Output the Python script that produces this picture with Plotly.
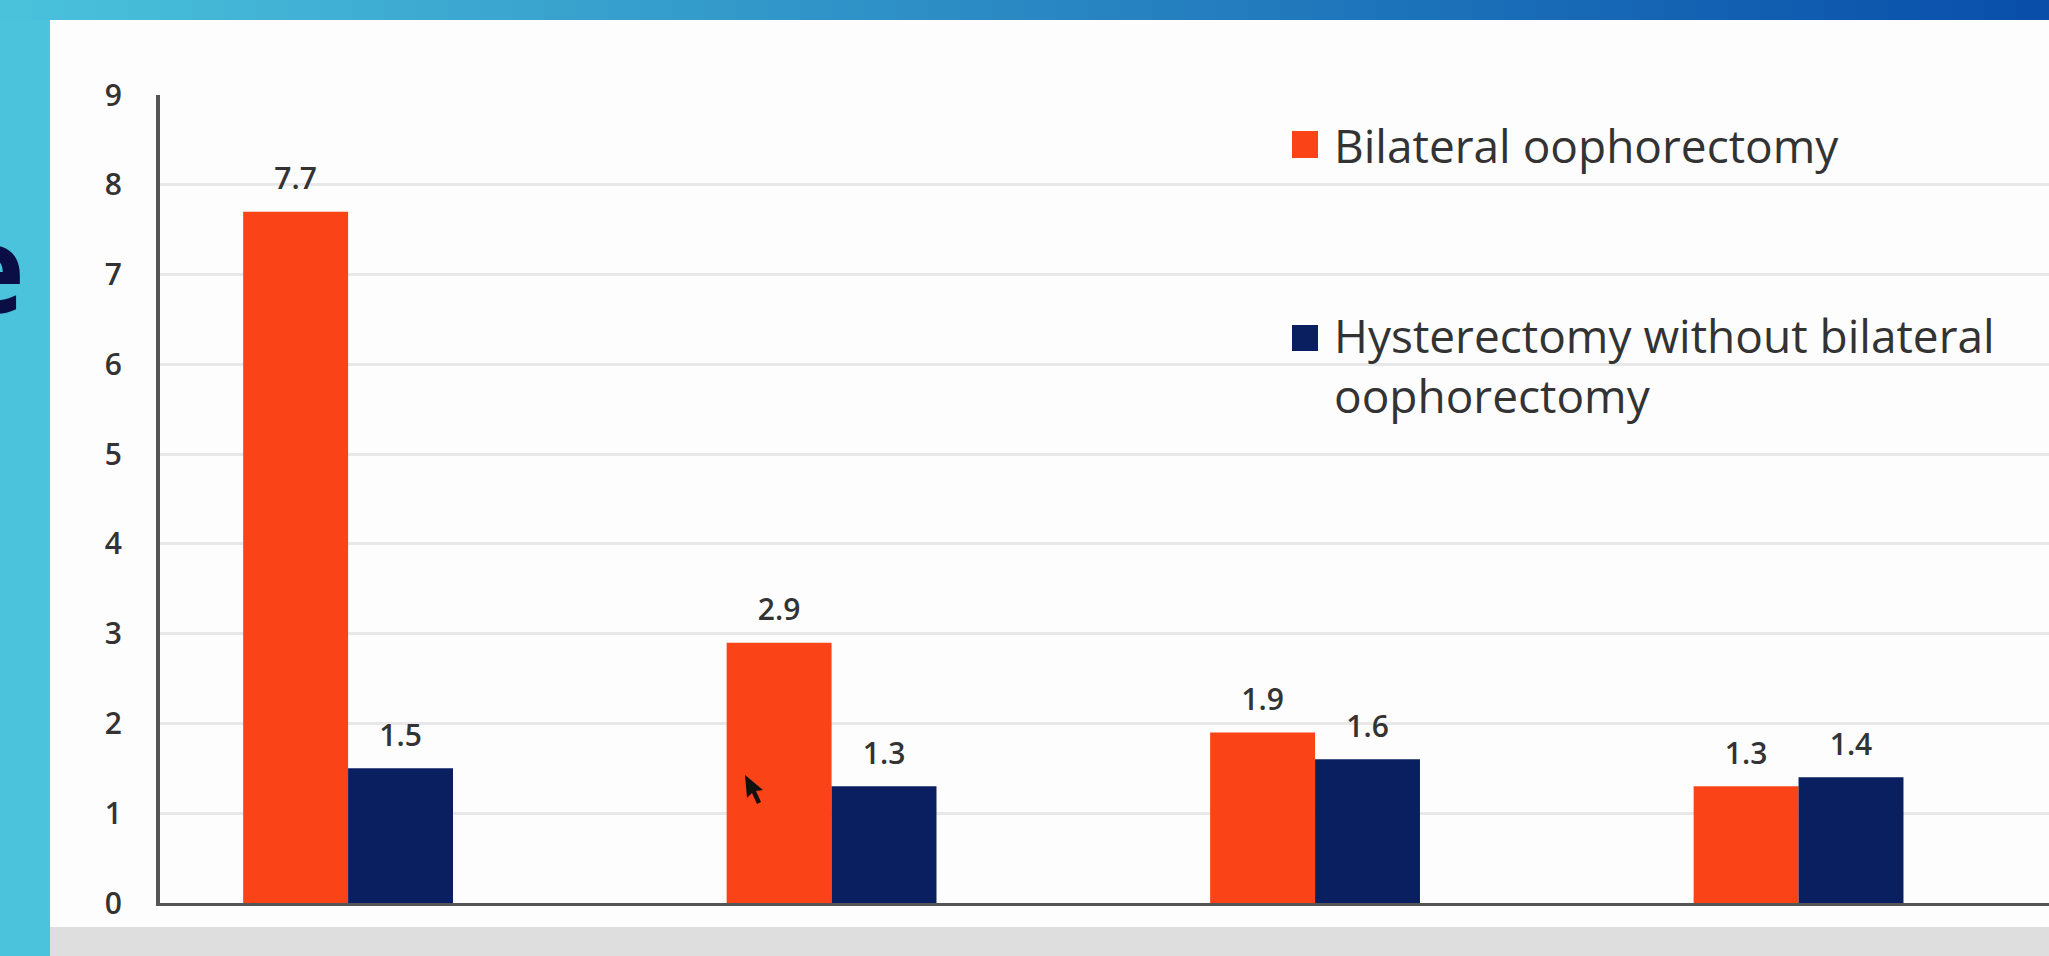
import plotly.graph_objects as go

# ---- data ----
categories = ["Group 1", "Group 2", "Group 3", "Group 4"]
series_names = ["Bilateral oophorectomy", "Hysterectomy without bilateral<br>oophorectomy"]
bilateral = [7.7, 2.9, 1.9, 1.3]
hysterectomy = [1.5, 1.3, 1.6, 1.4]
y_ticks = [0, 1, 2, 3, 4, 5, 6, 7, 8, 9]

# ---- style ----
ORANGE = "#FB4318"
NAVY = "#0A1F5F"
TEXT = "#333333"
FONT = "Open Sans"
W, H = 2049, 956
PL, PR, PT, PB = 160, 2049, 95, 903


def px(x):
    return (x - PL) / (PR - PL)


def py(y):
    return (PB - y) / (PB - PT)


label_tpl = "<span style='font-size:30px'>%{y}</span><br>\u00a0"

fig = go.Figure()
fig.add_trace(go.Bar(
    x=categories, y=bilateral, name=series_names[0],
    marker=dict(color=ORANGE, line=dict(width=0)),
    texttemplate=label_tpl, textposition="outside",
    textfont=dict(family=FONT, size=12, color=TEXT, weight=600),
    cliponaxis=False, showlegend=False,
))
fig.add_trace(go.Bar(
    x=categories, y=hysterectomy, name=series_names[1],
    marker=dict(color=NAVY, line=dict(width=0)),
    texttemplate=label_tpl, textposition="outside",
    textfont=dict(family=FONT, size=12, color=TEXT, weight=600),
    cliponaxis=False, showlegend=False,
))

shapes = []
# top gradient band
c0 = (75, 195, 220)
c1 = (8, 78, 170)
N = 64
for i in range(N):
    t = (i + 0.5) / N
    col = "rgb(%d,%d,%d)" % tuple(round(a + (b - a) * t) for a, b in zip(c0, c1))
    xa = i * W / N
    xb = (i + 1) * W / N + 1
    shapes.append(dict(type="rect", xref="paper", yref="paper",
                       x0=px(xa), x1=px(xb), y0=py(20), y1=py(0),
                       fillcolor=col, line=dict(width=0), layer="below"))
# white slide panel
shapes.append(dict(type="rect", xref="paper", yref="paper",
                   x0=px(50), x1=px(W + 2), y0=py(927), y1=py(20),
                   fillcolor="#fdfdfd", line=dict(width=0), layer="below"))
# bottom gray band
shapes.append(dict(type="rect", xref="paper", yref="paper",
                   x0=px(50), x1=px(W + 2), y0=py(H + 2), y1=py(927),
                   fillcolor="#dedede", line=dict(width=0), layer="below"))
# legend squares
shapes.append(dict(type="rect", xref="paper", yref="paper",
                   x0=px(1292), x1=px(1318), y0=py(158), y1=py(131),
                   fillcolor=ORANGE, line=dict(width=0)))
shapes.append(dict(type="rect", xref="paper", yref="paper",
                   x0=px(1292), x1=px(1318), y0=py(351), y1=py(325),
                   fillcolor=NAVY, line=dict(width=0)))
# mouse pointer
pts = [(745, 775), (747, 798), (752, 793), (757, 804), (761, 802), (756, 791), (763, 790)]
path = "M " + " L ".join("%.5f,%.5f" % (px(x), py(y)) for x, y in pts) + " Z"
shapes.append(dict(type="path", xref="paper", yref="paper", path=path,
                   fillcolor="#111111", line=dict(width=0)))

annotations = [
    dict(text=series_names[0], xref="paper", yref="paper", x=px(1332), y=py(145),
         xanchor="left", yanchor="middle", align="left", showarrow=False,
         font=dict(family=FONT, size=46, color=TEXT)),
    dict(text=series_names[1], xref="paper", yref="paper", x=px(1332), y=py(365),
         xanchor="left", yanchor="middle", align="left", showarrow=False,
         font=dict(family=FONT, size=46, color=TEXT)),
    dict(text="<b>e</b>", xref="paper", yref="paper", x=px(27), y=py(266),
         xanchor="right", yanchor="middle", showarrow=False,
         font=dict(family=FONT, size=122, color="#0b0e45")),
]

fig.update_layout(
    width=W, height=H,
    margin=dict(l=PL, r=W - PR, t=PT, b=H - PB, autoexpand=False),
    paper_bgcolor="#4bc3dc",
    plot_bgcolor="rgba(0,0,0,0)",
    barmode="group", bargap=0.566, bargroupgap=0,
    showlegend=False,
    hovermode=False,
    shapes=shapes, annotations=annotations,
    font=dict(family=FONT, color=TEXT),
    xaxis=dict(type="category", range=[-0.389, 3.518], showticklabels=False,
               ticks="", showgrid=False, zeroline=False,
               showline=True, linecolor="#555555", linewidth=3),
    yaxis=dict(range=[0, 9], tickvals=y_ticks, ticks="",
               tickfont=dict(family=FONT, size=30, color=TEXT, weight=600),
               ticklabelstandoff=28,
               showgrid=True, gridcolor="#e8e8e8", gridwidth=3,
               zeroline=False, showline=True, linecolor="#555555", linewidth=4),
)

fig.write_html(
    "out.html",
    config={"displayModeBar": False},
    post_script="document.body.style.margin='0';document.body.style.overflow='hidden';",
)
